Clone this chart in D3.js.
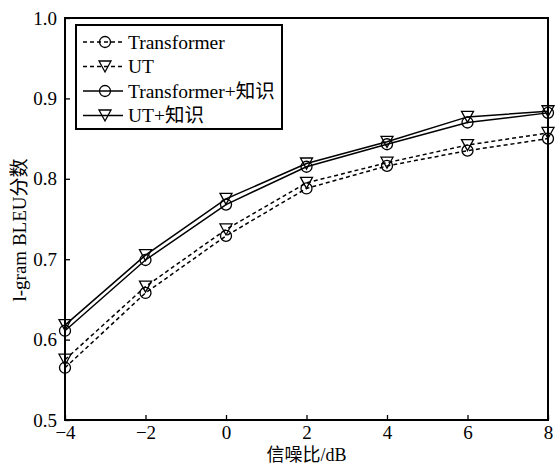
<!DOCTYPE html>
<html>
<head>
<meta charset="utf-8">
<script src="https://cdn.jsdelivr.net/npm/d3@7"></script>
<style>
  body { margin: 0; background: #fff; }
  text { font-family: "Liberation Serif", "Times New Roman", "Noto Sans CJK SC", serif; fill: #000; }
</style>
</head>
<body>
<script>
var snr = [-4, -2, 0, 2, 4, 6, 8];
var transformer = [0.565, 0.658, 0.729, 0.788, 0.816, 0.835, 0.850];
var ut = [0.575, 0.666, 0.737, 0.795, 0.820, 0.842, 0.857];
var transformerK = [0.611, 0.699, 0.768, 0.815, 0.843, 0.870, 0.882];
var utK = [0.618, 0.705, 0.775, 0.819, 0.846, 0.877, 0.884];
var xTicks = [-4, -2, 0, 2, 4, 6, 8];
var yTicks = [0.5, 0.6, 0.7, 0.8, 0.9, 1.0];

var series = [
  {name: "Transformer", values: transformer, dash: "4,3", marker: "circle"},
  {name: "UT", values: ut, dash: "4,3", marker: "tri"},
  {name: "Transformer+知识", values: transformerK, dash: null, marker: "circle"},
  {name: "UT+知识", values: utK, dash: null, marker: "tri"}
];

var width = 556, height = 465;
var margin = {left: 65, right: 8, top: 18, bottom: 45};

var svg = d3.select("body").append("svg")
    .attr("width", width)
    .attr("height", height);

var x = d3.scaleLinear().domain([-4, 8]).range([margin.left, width - margin.right]);
var y = d3.scaleLinear().domain([0.5, 1.0]).range([height - margin.bottom, margin.top]);

var fmtMinus = function(d) { return d < 0 ? "\u2212" + Math.abs(d) : "" + d; };

// axes with inward ticks
var xAxis = svg.append("g")
    .attr("transform", "translate(0," + (height - margin.bottom) + ")")
    .call(d3.axisBottom(x).tickValues(xTicks).tickSize(-5).tickPadding(6).tickFormat(fmtMinus));
var yAxis = svg.append("g")
    .attr("transform", "translate(" + margin.left + ",0)")
    .call(d3.axisLeft(y).tickValues(yTicks).tickSize(-5).tickPadding(8).tickFormat(d3.format(".1f")));

[xAxis, yAxis].forEach(function(g) {
  g.select(".domain").remove();
  g.selectAll(".tick line").attr("stroke", "#000").attr("stroke-width", 1.3);
  g.selectAll(".tick text").style("font-size", "19px");
});

// frame
svg.append("rect")
    .attr("x", margin.left)
    .attr("y", margin.top)
    .attr("width", width - margin.right - margin.left)
    .attr("height", height - margin.bottom - margin.top)
    .attr("fill", "none")
    .attr("stroke", "#000")
    .attr("stroke-width", 2);

// axis labels
svg.append("text")
    .attr("x", (margin.left + width - margin.right) / 2)
    .attr("y", 461)
    .attr("text-anchor", "middle")
    .style("font-size", "18px")
    .text("信噪比/dB");

svg.append("text")
    .attr("transform", "translate(26,230) rotate(-90)")
    .attr("text-anchor", "middle")
    .style("font-size", "19px")
    .text("l-gram BLEU分数");

var triPath = "M-6,-5.5L6,-5.5L0,5.5Z";

function drawMarker(g, type) {
  if (type === "circle") {
    g.append("circle").attr("r", 5.5).attr("fill", "none").attr("stroke", "#000").attr("stroke-width", 1.3);
  } else {
    g.append("path").attr("d", triPath).attr("fill", "none").attr("stroke", "#000").attr("stroke-width", 1.3);
  }
}

var line = d3.line()
    .x(function(d, i) { return x(snr[i]); })
    .y(function(d) { return y(d); });

series.forEach(function(s) {
  svg.append("path")
      .datum(s.values)
      .attr("d", line)
      .attr("fill", "none")
      .attr("stroke", "#000")
      .attr("stroke-width", 1.5)
      .attr("stroke-dasharray", s.dash);

  svg.append("g").selectAll("g")
      .data(s.values)
      .enter().append("g")
      .attr("transform", function(d, i) { return "translate(" + x(snr[i]) + "," + y(d) + ")"; })
      .each(function() { drawMarker(d3.select(this), s.marker); });
});

// legend
var legend = svg.append("g").attr("transform", "translate(76,25)");
legend.append("rect")
    .attr("width", 206)
    .attr("height", 104)
    .attr("fill", "#fff")
    .attr("stroke", "#000")
    .attr("stroke-width", 2);

series.forEach(function(s, i) {
  var row = legend.append("g").attr("transform", "translate(0," + (17 + i * 24.5) + ")");
  row.append("line")
      .attr("x1", 7).attr("x2", 47)
      .attr("stroke", "#000")
      .attr("stroke-width", 1.5)
      .attr("stroke-dasharray", s.dash);
  var m = row.append("g").attr("transform", "translate(29,0)");
  drawMarker(m, s.marker);
  row.append("text")
      .attr("x", 52)
      .attr("y", 6.5)
      .style("font-size", "19.5px")
      .text(s.name);
});
</script>
</body>
</html>
